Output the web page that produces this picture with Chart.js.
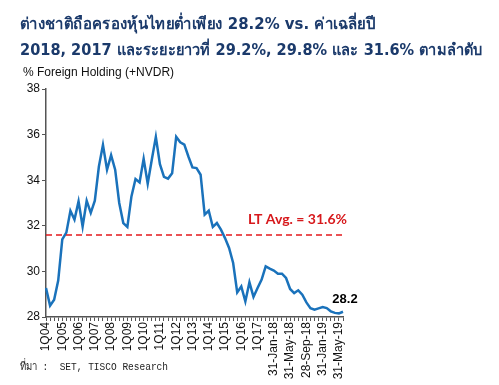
<!DOCTYPE html>
<html>
<head>
<meta charset="utf-8">
<script src="https://cdn.jsdelivr.net/npm/chart.js@4.4.0/dist/chart.umd.min.js"></script>
<style>
  html, body { margin: 0; padding: 0; background: #fff; }
  #wrap { position: relative; width: 499px; height: 385px; }
  canvas { display: block; }
</style>
</head>
<body>
<div id="wrap"><canvas id="c" width="499" height="385"></canvas></div>
<script>
const titleLines = [
  'ต่างชาติถือครองหุ้นไทยต่ำเพียง 28.2% vs. ค่าเฉลี่ยปี',
  '2018, 2017 และระยะยาวที่ 29.2%, 29.8% และ 31.6% ตามลำดับ'
];
const axisTitle = '% Foreign Holding (+NVDR)';
const sourceText = 'ที่มา :  SET, TISCO Research';

const tickLabels = ['1Q04','1Q05','1Q06','1Q07','1Q08','1Q09','1Q10','1Q11','1Q12','1Q13',
  '1Q14','1Q15','1Q16','1Q17','31-Jan-18','31-May-18','28-Sep-18','31-Jan-19','31-May-19'];
const labelEvery = 4;

const foreignHolding = [
  29.27, 28.50, 28.76, 29.60, 31.40, 31.70, 32.66, 32.27, 33.07, 31.97,
  33.10, 32.57, 33.10, 34.60, 35.55, 34.46, 35.10, 34.46, 33.00, 32.12,
  31.95, 33.29, 34.05, 33.90, 34.94, 33.85, 34.90, 35.90, 34.70, 34.15,
  34.07, 34.30, 35.90, 35.66, 35.56, 35.04, 34.56, 34.53, 34.24, 32.49,
  32.66, 31.95, 32.12, 31.83, 31.46, 31.03, 30.37, 29.08, 29.34, 28.68,
  29.52, 28.88, 29.27, 29.64, 30.22, 30.12, 30.04, 29.90, 29.90, 29.71,
  29.23, 29.05, 29.17, 28.98, 28.64, 28.39, 28.32, 28.38, 28.44, 28.39,
  28.25, 28.18, 28.16, 28.23
];
const ltAvg = 31.6;
const ltLabel = 'LT Avg. = 31.6%';
const lastLabel = '28.2';
const yTicks = [28, 30, 32, 34, 36, 38];

const categories = foreignHolding.map((v, i) =>
  (i % labelEvery === 0 && tickLabels[i / labelEvery] !== undefined) ? tickLabels[i / labelEvery] : '');

const overlay = {
  id: 'overlay',
  afterDatasetsDraw(chart) {
    const ctx = chart.ctx;
    const xs = chart.scales.x, ys = chart.scales.y;
    const area = chart.chartArea;
    const yAvg = ys.getPixelForValue(ltAvg);
    ctx.save();
    ctx.strokeStyle = '#E3191C';
    ctx.lineWidth = 1.5;
    ctx.setLineDash([6, 4]);
    ctx.beginPath();
    ctx.moveTo(area.left, yAvg);
    ctx.lineTo(area.right + 2, yAvg);
    ctx.stroke();
    ctx.setLineDash([]);
    ctx.fillStyle = '#D7191C';
    ctx.font = 'bold 14px Lato, "Open Sans", sans-serif';
    ctx.textAlign = 'right';
    ctx.textBaseline = 'middle';
    ctx.fillText(ltLabel, area.right + 4, yAvg - 15);
    const n = foreignHolding.length - 1;
    const lx = xs.getPixelForValue(n), ly = ys.getPixelForValue(foreignHolding[n]);
    ctx.fillStyle = '#000';
    ctx.font = 'bold 13px "Liberation Sans", Arial, sans-serif';
    ctx.textAlign = 'center';
    ctx.fillText(lastLabel, lx + 2, ly - 12);
    ctx.restore();
  },
  afterDraw(chart) {
    const ctx = chart.ctx;
    ctx.save();
    ctx.fillStyle = '#1B3A6B';
    ctx.font = 'bold 16px Tahoma, "DejaVu Sans", "Noto Sans", sans-serif';
    ctx.textAlign = 'left';
    ctx.textBaseline = 'middle';
    ctx.fillText(titleLines[0], 20, 25, 355);
    ctx.fillText(titleLines[1], 20, 51, 462);
    ctx.fillStyle = '#111';
    ctx.font = '12px "Liberation Sans Narrow", "Liberation Sans", Arial, sans-serif';
    ctx.fillText(axisTitle, 23, 73);
    ctx.fillStyle = '#222';
    ctx.font = '9.6px "Liberation Mono", "DejaVu Sans Mono", monospace';
    ctx.translate(20, 367);
    ctx.scale(1, 1.2);
    ctx.fillText(sourceText, 0, 0, 148);
    ctx.restore();
  }
};

new Chart(document.getElementById('c'), {
  type: 'line',
  data: {
    labels: categories,
    datasets: [{
      data: foreignHolding,
      borderColor: '#1A72BB',
      borderWidth: 2.5,
      pointRadius: 0,
      tension: 0,
      fill: false
    }]
  },
  options: {
    responsive: false,
    animation: false,
    devicePixelRatio: 1,
    layout: { padding: { left: 12, top: 89, right: 156, bottom: 4 } },
    plugins: { legend: { display: false }, tooltip: { enabled: false }, title: { display: false } },
    scales: {
      x: {
        type: 'category',
        offset: false,
        grid: { display: true, drawOnChartArea: false, drawTicks: true, tickLength: 4, color: '#555', tickColor: '#555' },
        border: { display: true, color: '#555', width: 1.5 },
        ticks: {
          autoSkip: false,
          minRotation: 90,
          maxRotation: 90,
          padding: 1,
          color: '#111',
          font: { family: '"Liberation Sans Narrow", "Liberation Sans", Arial, sans-serif', size: 12 },
          callback: (v, i) => categories[i]
        },
        afterFit(s) { s.height = 64; }
      },
      y: {
        min: 28,
        max: 38,
        afterBuildTicks(s) { s.ticks = yTicks.map(v => ({ value: v })); },
        grid: { display: true, drawOnChartArea: false, drawTicks: true, tickLength: 4, color: '#555', tickColor: '#555' },
        border: { display: true, color: '#555', width: 1.5 },
        ticks: {
          padding: 2,
          color: '#111',
          font: { family: '"Liberation Sans Narrow", "Liberation Sans", Arial, sans-serif', size: 12 }
        },
        afterFit(s) { s.width = 34; }
      }
    }
  },
  plugins: [overlay]
});
</script>
</body>
</html>
